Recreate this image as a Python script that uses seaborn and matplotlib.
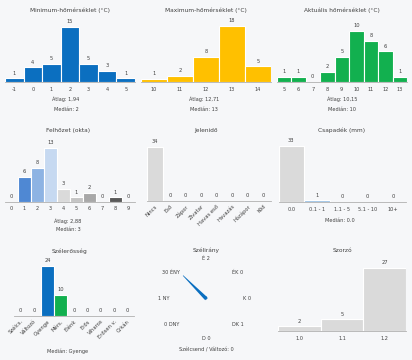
import numpy as np
import matplotlib
matplotlib.use("Agg")
import matplotlib.pyplot as plt
import seaborn as sns

# adatok
min_cats = ["-1", "0", "1", "2", "3", "4", "5"]
min_vals = [1, 4, 5, 15, 5, 3, 1]
max_cats = ["10", "11", "12", "13", "14"]
max_vals = [1, 2, 8, 18, 5]
akt_cats = ["5", "6", "7", "8", "9", "10", "11", "12", "13"]
akt_vals = [1, 1, 0, 2, 5, 10, 8, 6, 1]
felho_cats = ["0", "1", "2", "3", "4", "5", "6", "7", "8", "9"]
felho_vals = [0, 6, 8, 13, 3, 1, 2, 0, 1, 0]
jelen_cats = ["Nincs", "Eső", "Zápor", "Zivatar", "Havas eső", "Havazás", "Hózápor", "Köd"]
jelen_vals = [34, 0, 0, 0, 0, 0, 0, 0]
csap_cats = ["0.0", "0.1 - 1", "1.1 - 5", "5.1 - 10", "10+"]
csap_vals = [33, 1, 0, 0, 0]
szel_cats = ["Szélcs.", "Változó", "Gyenge", "Mérs.", "Élénk", "Erős", "Viharos", "Erősen v.", "Orkán"]
szel_vals = [0, 0, 24, 10, 0, 0, 0, 0, 0]
irany_cats = ["É", "ÉK", "K", "DK", "D", "DNY", "NY", "ÉNY"]
irany_vals = [2, 0, 0, 1, 0, 0, 1, 30]
szorzo_cats = ["1.0", "1.1", "1.2"]
szorzo_vals = [2, 5, 27]

# színek
felho_colors = ["#d0dff2", "#4f88d3", "#8db3e3", "#c6d9f1", "#dadada",
                "#c4c4c4", "#a8a8a8", "#808080", "#595959", "#404040"]
csap_colors = ["#dadada", "#9dc3e6", "#5b9bd5", "#2e75b6", "#1f4e79"]
szel_colors = ["#bfbfbf", "#a6a6a6", "#0b6fc0", "#12b04f", "#ffc000",
               "#ed7d31", "#e03c31", "#a02020", "#7030a0"]

BG = "#f6f7f9"
TXT = "#404040"
W, H = 412, 360

sns.set_style("white")
plt.rcParams["font.family"] = ["DejaVu Sans"]
fig = plt.figure(figsize=(W / 100, H / 100), dpi=100, facecolor=BG)


def px_axes(x0, x1, base, top):
    ax = fig.add_axes([x0 / W, 1 - base / H, (x1 - x0) / W, (base - top) / H])
    ax.set_facecolor(BG)
    return ax


def ftext(x, y, s, size=3.6, **kw):
    fig.text(x / W, 1 - y / H, s, fontsize=size, color=TXT,
             ha="center", va="center", **kw)


def bar_panel(x0, x1, base, bar_px, cats, vals, colors, rot=False):
    ax = px_axes(x0, x1, base, base - 65)
    sns.barplot(x=cats, y=vals, hue=cats, palette=colors, legend=False,
                width=1, edgecolor="white", linewidth=0.8, errorbar=None,
                saturation=1, ax=ax)
    for c in ax.containers:
        ax.bar_label(c, padding=2, fontsize=3.7, color=TXT)
    n = len(cats)
    ax.set_xlim(-0.5, n - 0.5)
    ax.set_ylim(0, max(vals) * 65 / bar_px)
    ax.set_xticks(range(n))
    ax.set_xticks(np.arange(-0.5, n), minor=True)
    ax.tick_params(axis="x", which="major", length=0, pad=3.5,
                   labelsize=3.6, labelcolor=TXT)
    ax.tick_params(axis="x", which="minor", length=2.5, width=0.5, color="#b0b0b0")
    if rot:
        ax.set_xticklabels(cats, rotation=45, ha="right", rotation_mode="anchor")
        ax.tick_params(axis="x", which="major", pad=2, labelsize=3.8)
    ax.set_yticks([])
    ax.set_xlabel("")
    ax.set_ylabel("")
    for s in ["top", "left", "right"]:
        ax.spines[s].set_visible(False)
    ax.spines["bottom"].set_color("#b0b0b0")
    ax.spines["bottom"].set_linewidth(0.6)
    return ax


# 1. sor
bar_panel(5, 135, 82, 55, min_cats, min_vals, ["#0b6fc0"] * 7)
ftext(70, 10, "Minimum-hőmérséklet (°C)", size=4.2)
ftext(66, 99.5, "Átlag: 1,94")
ftext(66, 109.5, "Medián: 2")

bar_panel(141, 271, 82, 56, max_cats, max_vals, ["#ffc000"] * 5)
ftext(206, 10, "Maximum-hőmérséklet (°C)", size=4.2)
ftext(204, 99.5, "Átlag: 12,71")
ftext(204, 109.5, "Medián: 13")

bar_panel(276.5, 407, 82, 51, akt_cats, akt_vals, ["#12b04f"] * 9)
ftext(342, 10, "Aktuális hőmérséklet (°C)", size=4.2)
ftext(342, 99.5, "Átlag: 10,15")
ftext(342, 109.5, "Medián: 10")

# 2. sor
bar_panel(5, 135, 201.5, 54, felho_cats, felho_vals, felho_colors)
ftext(68, 130, "Felhőzet (okta)", size=4.2)
ftext(68, 221, "Átlag: 2,88")
ftext(68, 230, "Medián: 3")

bar_panel(147, 271, 201, 54, jelen_cats, jelen_vals, ["#dadada"] * 8, rot=True)
ftext(206, 130, "Jelenidő", size=4.2)

bar_panel(278.5, 406, 202, 56, csap_cats, csap_vals, csap_colors)
ftext(342, 130, "Csapadék (mm)", size=4.2)
ftext(340, 221, "Medián: 0.0")

# 3. sor
bar_panel(14, 134, 316, 50, szel_cats, szel_vals, szel_colors, rot=True)
ftext(70, 251, "Szélerősség", size=4.2)
ftext(68, 351, "Medián: Gyenge")

bar_panel(278, 406, 331, 63, szorzo_cats, szorzo_vals, ["#dadada"] * 3)
ftext(342, 250, "Szorzó", size=4.2)

# szélirány
ax = px_axes(156, 256, 348.5, 248.5)
ax.set_xlim(-50, 50)
ax.set_ylim(-50, 50)
ax.axis("off")
angles = np.deg2rad([90, 45, 0, -45, -90, -135, 180, 135])
vmax = max(irany_vals)
for d, v, a in zip(irany_cats, irany_vals, angles):
    c, s = np.cos(a), np.sin(a)
    if v > 0:
        L = v / vmax * 32.5
        px, py = -s, c
        xs = [1.8 * px, c * L + 0.3 * px, c * L - 0.3 * px, -1.8 * px]
        ys = [1.8 * py, s * L + 0.3 * py, s * L - 0.3 * py, -1.8 * py]
        ax.fill(xs, ys, color="#0b6fc0", lw=0)
    label = f"{v} {d}" if c < -0.1 else f"{d} {v}"
    ha = "right" if c < -0.1 else ("left" if c > 0.1 else "center")
    va = "bottom" if s > 0.9 else ("top" if s < -0.9 else "center")
    ax.text(c * 37, s * 37, label, ha=ha, va=va, fontsize=3.6, color=TXT)
ftext(206, 250, "Szélirány", size=4.2)
ftext(206, 350, "Szélcsend / Változó: 0")

fig.savefig("out.png", dpi=100, facecolor=BG)
